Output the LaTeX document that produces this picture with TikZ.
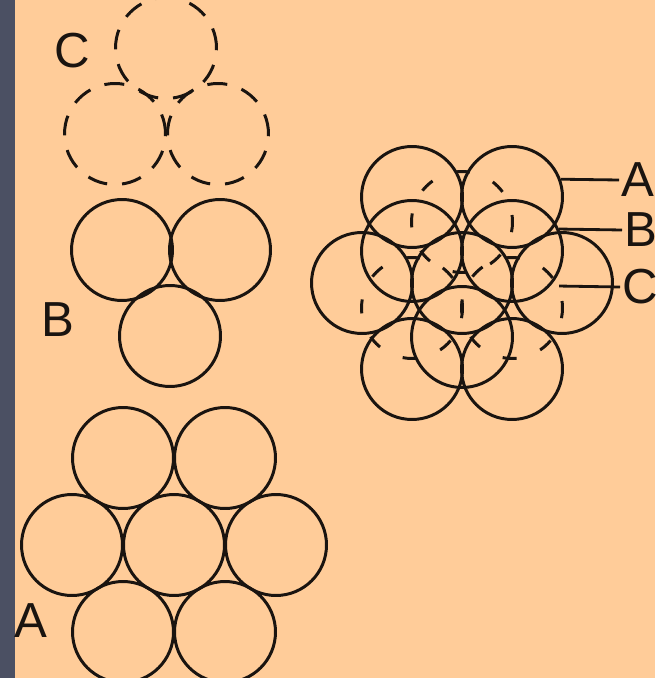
\documentclass[tikz,border=0pt]{standalone}
\usepackage{fontspec}
\setmainfont{Liberation Sans}
\definecolor{peach}{HTML}{FFCC99}
\definecolor{slate}{HTML}{4B5063}
\definecolor{ink}{HTML}{1A1410}

\begin{document}
\begin{tikzpicture}[x=0.02cm, y=-0.02cm,
    every node/.style={font=\fontsize{28}{30}\selectfont, text=ink},
    ball/.style={circle, draw=ink, line width=1.7pt, minimum size=2.02cm, inner sep=0pt},
    hollow/.style={ball, dash pattern=on 0.4cm off 0.3cm},
    faint/.style={ball, dash pattern=on 0.28cm off 0.505cm, dash phase=0.14cm},
    tag/.style={anchor=west, inner sep=1pt},
    lead/.style={draw=ink, line width=1.6pt}
]
\useasboundingbox (0,0) rectangle (655,678);
\fill[peach] (0,0) rectangle (655,678);
\fill[slate] (0,0) rectangle (15,678);

% Layer C
\node[hollow] (c1) at (166,48) {};
\node[hollow] (c2) at (115,134) {};
\node[hollow] (c3) at (218,134) {};
\node (lc) at (72,51) {C};

% Layer B
\node[ball] (b1) at (122,250) {};
\node[ball] (b2) at (220,250) {};
\node[ball] (b3) at (170,336) {};
\node (lb) at (58,320) {B};

% Layer A
\node[ball] (a1) at (123,458) {};
\node[ball] (a2) at (225,458) {};
\node[ball] (a3) at (72,545) {};
\node[ball] (a4) at (174,545) {};
\node[ball] (a5) at (276,545) {};
\node[ball] (a6) at (123,632) {};
\node[ball] (a7) at (225,632) {};
\node (la) at (31,621) {A};

% Stack: A
\node[ball] (sa1) at (412,197) {};
\node[ball] (sa2) at (512,197) {};
\node[ball] (sa3) at (362,283) {};
\node[ball] (sa4) at (462,283) {};
\node[ball] (sa5) at (562,283) {};
\node[ball] (sa6) at (412,369) {};
\node[ball] (sa7) at (512,369) {};
% Stack: B
\node[ball] (sb1) at (412,251) {};
\node[ball] (sb2) at (512,251) {};
\node[ball] (sb3) at (462,337) {};
% Stack: C
\node[faint] (sc1) at (462,222) {};
\node[faint] (sc2) at (412,308) {};
\node[faint] (sc3) at (512,308) {};

% Labels
\node[tag] (ta) at (619,180) {A};
\node[tag] (tb) at (622,230) {B};
\node[tag] (tc) at (620,287) {C};
\draw[lead] (sa2.20) -- (ta.west);
\draw[lead] (sb2.25) -- (tb.west);
\draw[lead] (sc3.25) -- (tc.west);
\end{tikzpicture}
\end{document}
